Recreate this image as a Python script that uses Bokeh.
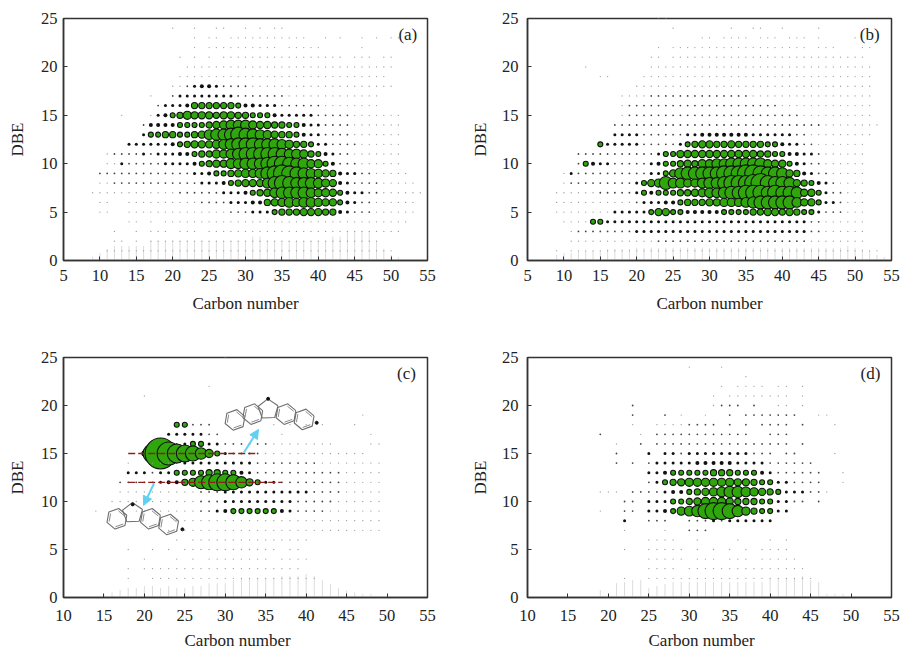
import math
from bokeh.plotting import figure
from bokeh.layouts import column, row
from bokeh.models import Label, Arrow, NormalHead, ColumnDataSource, Title
from bokeh.embed import file_html
from bokeh.resources import INLINE

# Each row: (DBE, abundance class per carbon number, in groups of five starting at C5).
# 0 = nothing, then 1..h rising.
panel_a_rows = [
    (24, "00000 00000 00000 10010 01100 10101 10000 00000 00000 00000"),
    (23, "00000 00000 00000 00010 11011 11111 11110 01010 01010 11000"),
    (22, "00000 00000 00000 00010 11111 11111 01111 10000 01000 00000"),
    (21, "00000 00000 00000 01010 10111 11111 11111 11110 11101 10000"),
    (20, "00000 00000 00000 00111 11111 11111 11111 11111 11111 10000"),
    (19, "00000 00000 00000 01111 11111 11111 11111 11111 11111 00000"),
    (18, "00000 00000 00000 11234 43222 21111 11111 11111 11111 10000"),
    (17, "00000 00000 00100 23333 33332 22222 21111 11111 11110 00000"),
    (16, "00000 00000 00023 33466 66665 44333 22222 21111 11110 00000"),
    (15, "00000 00010 00134 56877 76776 65554 33333 22222 11111 11000"),
    (14, "00000 00000 02444 45555 67899 98776 65543 32222 11111 11000"),
    (13, "00000 00000 03556 65567 9aabc ba987 66543 32222 11111 11000"),
    (12, "00000 00003 33333 45677 789ab bbaaa 98665 33222 21111 11000"),
    (11, "00000 01222 23233 34456 6889a bbbbb a9986 54322 11111 11000"),
    (10, "00000 01132 22223 33345 67799 aaabc cbaa8 85422 21111 11000"),
    (9,  "00000 22222 22222 22233 45567 889bc dcba9 87643 32211 11100"),
    (8,  "00000 11222 22222 22223 33456 7779b cbaaa 98743 22221 11110"),
    (7,  "00001 11111 11111 12222 22333 45679 aaaa9 88754 33221 11111"),
    (6,  "00000 11001 11111 11112 22233 34467 89899 87754 32211 11110"),
    (5,  "00000 11001 11111 11111 11122 23335 66677 76643 22211 11110"),
    (4,  "00000 00001 10101 11111 11111 11111 11111 11111 11111 11100"),
    (3,  "00000 00100 10111 01110 11111 11111 11111 11111 11111 11000"),
    (2,  "00000 00110 10111 11111 11111 11111 11111 11111 11110 00000"),
    (1,  "00000 01111 11111 11111 11111 11111 11111 11111 11111 10000"),
]
panel_a_stripe_c = [9, 10, 11, 12, 13, 14, 15, 16, 17, 18, 19, 20, 21, 22, 23, 24, 25, 26, 27, 28, 29, 30, 31, 32, 33, 34, 35, 36, 37, 38, 39, 40, 41, 42, 43, 44, 45, 46, 47, 48, 49, 50, 51, 52, 53]
panel_a_stripe_top = [0.4, 0.8, 1.2, 1.5, 1.5, 1.5, 1.5, 1.5, 2, 2, 2, 2, 2, 2, 2, 2, 2, 2, 2, 2, 2, 2, 2.5, 2.5, 2, 2, 2, 2, 2, 2, 2, 2, 2, 2.5, 2.5, 3, 3, 3, 3, 2, 1.2, 0.6, 0.3, 0.2, 0.2]

panel_b_rows = [
    (25, "00000 00000 00000 00011 00000 00000 00000 00000 00000 00000"),
    (24, "00000 00000 00000 00000 10000 00010 01100 10000 10000 00000"),
    (23, "00000 00000 00000 00000 00001 10111 10111 01110 10000 10000"),
    (22, "00000 00000 00000 00010 11111 11111 11111 11110 11100 01100"),
    (21, "00000 00000 00000 00110 11111 11111 11111 11111 11111 11000"),
    (20, "00000 00010 00000 00111 11111 11111 11111 11111 11111 11100"),
    (19, "00000 00000 11000 01111 11111 11111 11111 11111 11111 11100"),
    (18, "00000 00000 00000 11111 11111 11111 11111 11111 11111 11100"),
    (17, "00000 00000 00011 11222 22222 22222 21111 11111 11111 11100"),
    (16, "00000 00000 00012 22222 22222 22222 22222 11111 11111 11100"),
    (15, "00000 00000 00012 22222 22222 22222 22222 22211 11111 11100"),
    (14, "00000 00000 00222 22222 22222 22222 22222 22222 21111 11110"),
    (13, "00000 00000 00333 32222 22334 44444 43333 33221 11111 11100"),
    (12, "00000 00000 53333 32222 23567 76676 66655 43322 11111 11000"),
    (11, "00000 00222 22222 22235 57777 77777 77665 54433 21111 11000"),
    (10, "00000 00254 33222 22345 56768 899aa aaa87 75432 21111 11000"),
    (9,  "00000 13222 22222 22335 7abbb bbccc ddcbb a7643 22111 11000"),
    (8,  "00000 12222 22222 35 78b 99889 aabcc cdecb ba765 43211 11000"),
    (7,  "00001 11111 22222 35455 56678 99abb cccbc bba77 53221 11000"),
    (6,  "00001 11111 11111 23334 45666 77888 9abbb bb977 53321 11000"),
    (5,  "00001 11111 11333 33577 55444 44555 56677 67655 32221 11000"),
    (4,  "00000 11115 53333 33333 33333 33333 33333 33332 21111 11000"),
    (3,  "00000 01222 22222 33333 33333 33333 33333 33332 21111 11000"),
    (2,  "00000 01111 11111 11122 22222 22222 22222 22221 11111 11000"),
    (1,  "00001 01111 11111 11111 11111 11111 11111 11111 11111 11110"),
]
panel_b_stripe_c = [9, 10, 11, 12, 13, 14, 15, 16, 17, 18, 19, 20, 21, 22, 23, 24, 25, 26, 27, 28, 29, 30, 31, 32, 33, 34, 35, 36, 37, 38, 39, 40, 41, 42, 43, 44, 45, 46, 47, 48, 49, 50, 51, 52, 53, 54]
panel_b_stripe_top = [0.6, 0.8, 0.8, 0.9, 1, 1, 1, 1.2, 1.2, 1.2, 1.2, 1.3, 1.3, 1.3, 1.3, 1.3, 1.3, 1.3, 1.3, 1.3, 1.3, 1.3, 1.3, 1.3, 1.3, 1.3, 1.3, 1.3, 1.3, 1.3, 1.3, 1.3, 1.3, 1.3, 1.3, 1.3, 1.3, 1.3, 1.3, 1.3, 1.5, 1.3, 1.2, 1, 0.6, 0.4]

panel_c_rows = [
    (25, "00000 00000 00000 00000 00000 10000 00000 00000 00000 00000"),
    (22, "00000 00000 00000 00000 00010 00000 00000 00000 00000 00000"),
    (21, "00000 00000 00000 10000 00000 00000 00000 00000 00000 00000"),
    (19, "00000 00000 00000 00000 00000 00000 00000 00000 00100 00000"),
    (18, "00000 00000 00000 00005 52220 00000 01010 10100 01000 00000"),
    (17, "00000 00000 00000 00033 33322 00000 00100 00000 00010 00000"),
    (16, "00000 00000 00000 00002 35533 22222 21111 11110 00011 00000"),
    (15, "00000 00000 00000 5ehfe dca85 32222 11111 11111 11100 00000"),
    (14, "00000 00000 00010 01112 33333 33332 22222 22111 11111 00000"),
    (13, "00000 00000 00033 32335 55566 55432 22222 22222 11111 00000"),
    (12, "00000 00000 00222 22344 68bcd dca75 33222 22222 11111 00000"),
    (11, "00000 00000 00111 11111 11222 33333 33333 32222 11111 00000"),
    (10, "00000 00000 01111 11111 11222 33333 33332 22221 11111 00000"),
    (9,  "00000 00001 00001 10111 11223 45555 55432 22211 11111 00000"),
    (8,  "00000 00000 00000 00001 11111 11111 11111 11111 11111 00000"),
    (7,  "00000 00000 00000 00011 11111 11111 11111 11111 11111 00000"),
    (6,  "00000 00000 00000 00001 01111 11111 11111 10000 00000 00000"),
    (5,  "00000 00000 00010 01010 11111 11111 11011 00000 00000 00000"),
    (4,  "00000 00000 00000 10001 01011 11111 10111 10000 00000 00000"),
    (3,  "00000 00000 00010 11111 11111 11111 11111 00000 00000 00000"),
    (2,  "00000 00000 00010 01111 11111 11111 11111 11000 00000 00000"),
]
panel_c_stripe_c = [14, 15, 16, 17, 18, 19, 20, 21, 22, 23, 24, 25, 26, 27, 28, 29, 30, 31, 32, 33, 34, 35, 36, 37, 38, 39, 40, 41, 42, 43, 44, 45, 46, 47, 48, 49, 50]
panel_c_stripe_top = [0.2, 0.4, 0.5, 0.8, 1, 1, 1.2, 1.2, 1, 1.2, 1, 1, 1.2, 1.2, 1.5, 1.5, 1.5, 1.8, 2, 2, 2, 2, 2, 2.2, 2.2, 2.2, 2.4, 2.2, 1.8, 1.4, 1, 0.7, 0.5, 0.4, 0.3, 0.2, 0.1]

panel_d_rows = [
    (24, "00000 00000 00000 00000 00000 10001 00000 00000 00000 00000"),
    (23, "00000 00000 00000 00000 00000 00000 00100 00000 00000 00000"),
    (22, "00000 00000 00000 00000 00000 00001 01111 01101 00000 00000"),
    (21, "00000 00000 00000 00000 00000 00010 11111 11101 00000 00000"),
    (20, "00000 00000 00000 00020 00000 00012 22020 01101 00000 00000"),
    (19, "00000 00000 00000 00020 00201 00100 20222 22220 01100 00000"),
    (18, "00000 00000 00000 00010 01111 22220 20202 22202 00010 00000"),
    (17, "00000 00000 00002 00001 02222 22222 22200 22200 00000 00000"),
    (16, "00000 00000 00000 01002 02222 22222 22222 22202 00000 00000"),
    (15, "00000 00000 00000 02000 30332 33333 33322 20220 00010 00000"),
    (14, "00000 00000 00000 02020 23333 34444 43333 22222 20000 00000"),
    (13, "00000 00000 00000 00000 33455 55566 65554 32222 22001 00000"),
    (12, "00000 00000 00000 00000 23567 88888 87765 53322 22001 00000"),
    (11, "00000 00000 00001 11022 22344 56789 aa987 65333 22100 00000"),
    (10, "00000 00000 00000 00220 33355 67888 76665 53322 02000 00000"),
    (9,  "00000 00000 00001 00220 33458 9acdd ca865 53300 00000 00000"),
    (8,  "00000 00000 00000 00300 22200 22232 33333 30000 00000 00000"),
    (7,  "00000 00000 00000 00100 00100 22200 00000 00000 00000 00000"),
    (6,  "00000 00000 00000 00000 11110 01000 01000 10100 00000 00000"),
    (5,  "00000 00000 00000 00100 11111 01010 10101 11100 00000 00000"),
    (4,  "00000 00000 00000 00000 11111 01110 11101 11110 00000 00000"),
    (3,  "00000 00000 00000 00000 11110 11111 11111 11111 00000 00000"),
    (2,  "00000 00000 00000 00100 11111 11111 11111 11111 10000 00000"),
]
panel_d_stripe_c = [19, 21, 22, 23, 24, 25, 26, 27, 28, 29, 30, 31, 32, 33, 34, 35, 36, 37, 38, 39, 40, 41, 42, 43, 44, 45, 46, 47, 48, 49]
panel_d_stripe_top = [0.8, 1.5, 1.6, 1.8, 1.8, 1, 1.2, 1.4, 1.6, 1.6, 1.6, 1.6, 1.6, 1.6, 1.6, 1.6, 1.6, 1.6, 1.6, 1.6, 2, 2, 2, 2, 2.2, 1.8, 1.6, 0.3, 0.3, 0.3]

x_ticks_wide = [5, 10, 15, 20, 25, 30, 35, 40, 45, 50, 55]
x_ticks_narrow = [10, 15, 20, 25, 30, 35, 40, 45, 50, 55]
y_ticks = [0, 5, 10, 15, 20, 25]
x_axis_title = "Carbon number"
y_axis_title = "DBE"

# panel (c) annotations, in chart units
guide_dbe = [15, 12]
guide_from = [18, 18]
guide_to = [34, 37]
arrow_tails = [(32.3, 15.1), (21.2, 11.9)]
arrow_heads = [(34.1, 17.5), (19.9, 9.6)]
molecule_upper_rings = [(31.2, 18.5, 6), (33.4, 19.1, 6), (35.3, 19.6, 5), (37.5, 19.1, 6), (39.75, 18.55, 6)]
molecule_lower_rings = [(16.6, 8.2, 6), (18.55, 8.8, 5), (20.75, 8.2, 6), (23.0, 7.6, 6)]
molecule_dots = [(35.3, 20.7), (41.3, 18.2), (18.55, 9.7), (24.7, 7.1)]

GREEN = "#2fa60c"
LEVELS = "0123456789abcdefgh"
SIZES = [0, 1.3, 1.8, 3.0, 4.0, 5.0, 6.2, 7.2, 8.2, 9.8, 11.4, 13, 15, 17, 19, 23, 27, 31]


def panel(rows, stripe_c, stripe_top, xmin, xticks, letter, letter_x, width, height, left, right, top, bottom,
          y_tick_std, y_lab_std, x_tick_std, x_lab_std, title_below=False):
    p = figure(width=width, height=height, x_range=(xmin, 55), y_range=(0, 25),
               output_backend="svg", toolbar_location=None,
               min_border_left=left, min_border_right=right, min_border_top=top, min_border_bottom=bottom)
    p.grid.visible = False
    p.background_fill_color = "white"
    p.border_fill_color = "white"
    p.outline_line_color = "#333333"
    p.outline_line_width = 1.5
    for ax, ticks, title in ((p.xaxis[0], xticks, x_axis_title), (p.yaxis[0], y_ticks, y_axis_title)):
        ax.ticker = ticks
        ax.axis_label = title
        ax.axis_label_text_font = "Liberation Serif"
        ax.axis_label_text_font_size = "17px"
        ax.axis_label_text_font_style = "normal"
        ax.axis_label_text_color = "#222222"
        ax.major_label_text_font = "Liberation Serif"
        ax.major_label_text_font_size = "16.5px"
        ax.major_label_text_color = "#222222"
        ax.axis_line_color = "#333333"
        ax.axis_line_width = 1.5
        ax.major_tick_line_color = "#333333"
        ax.major_tick_in = 4
        ax.major_tick_out = 0
        ax.minor_tick_line_color = None
    p.xaxis[0].major_label_standoff = x_tick_std
    p.yaxis[0].major_label_standoff = y_tick_std
    p.xaxis[0].axis_label_standoff = x_lab_std
    p.yaxis[0].axis_label_standoff = y_lab_std
    if title_below:
        p.xaxis[0].axis_label = None
        p.add_layout(Title(text=x_axis_title, align="left", offset=121, standoff=10, text_font="Liberation Serif",
                           text_font_size="17px", text_font_style="normal", text_color="#222222"), "below")

    p.segment(x0=stripe_c, y0=[0] * len(stripe_c), x1=stripe_c, y1=stripe_top,
              line_color="#b8b8b8", line_width=1, line_dash="1 1")

    xs, ys, size, fill, line, lw = [], [], [], [], [], []
    for dbe, codes in rows:
        for i, ch in enumerate(codes.replace(" ", "")):
            k = LEVELS.index(ch)
            if k == 0:
                continue
            xs.append(5 + i)
            ys.append(dbe)
            size.append(SIZES[k])
            fill.append(GREEN if k >= 5 else ("#9a9a9a" if k == 1 else ("#444444" if k == 2 else "#111111")))
            line.append("#111111" if k >= 5 else None)
            lw.append(1.1 if k >= 5 else 0)
    src = ColumnDataSource(dict(x=xs, y=ys, s=size, f=fill, l=line, w=lw))
    p.scatter("x", "y", size="s", fill_color="f", line_color="l", line_width="w", source=src)

    p.add_layout(Label(x=letter_x, y=23.35, text=letter, text_font="Liberation Serif", text_font_size="17px",
                       text_align="center", text_baseline="middle", text_color="#222222"))
    return p


def add_ring(p, cx, cy, n):
    sx, sy = 10.5 / 8.07, 10.5 / 9.65
    ang = [math.radians(20 + k * 360 / n) for k in range(n + 1)]
    p.line([cx + sx * math.cos(a) for a in ang], [cy + sy * math.sin(a) for a in ang],
           line_color="#6e6e6e", line_width=1.1)
    if n == 6:
        for k in (0, 2, 4):
            p.line([cx + 0.78 * sx * math.cos(ang[k]), cx + 0.78 * sx * math.cos(ang[k + 1])],
                   [cy + 0.78 * sy * math.sin(ang[k]), cy + 0.78 * sy * math.sin(ang[k + 1])],
                   line_color="#8a8a8a", line_width=1)


pa = panel(panel_a_rows, panel_a_stripe_c, panel_a_stripe_top, 5, x_ticks_wide, "(a)", 52.3, 452, 335, 63, 25, 18, 75, 6, 11, 9, 10)
pb = panel(panel_b_rows, panel_b_stripe_c, panel_b_stripe_top, 5, x_ticks_wide, "(b)", 52.0, 449, 335, 75, 10, 18, 75, 9, 9, 9, 10)
pc = panel(panel_c_rows, panel_c_stripe_c, panel_c_stripe_top, 10, x_ticks_narrow, "(c)", 52.4, 452, 319, 63, 25, 22, 56, 6, 11, 12, 12, True)
pd = panel(panel_d_rows, panel_d_stripe_c, panel_d_stripe_top, 10, x_ticks_narrow, "(d)", 52.4, 449, 319, 75, 10, 22, 56, 9, 9, 12, 12, True)

for dbe, a, b in zip(guide_dbe, guide_from, guide_to):
    pc.line([a, b], [dbe, dbe], line_color="#8f1f1f", line_width=1.3, line_dash="7 3")
for (x0, y0), (x1, y1) in zip(arrow_tails, arrow_heads):
    pc.add_layout(Arrow(x_start=x0, y_start=y0, x_end=x1, y_end=y1, line_color="#62d0f2", line_width=2,
                        end=NormalHead(size=9, fill_color="#62d0f2", line_color="#62d0f2")))
for cx, cy, n in molecule_upper_rings + molecule_lower_rings:
    add_ring(pc, cx, cy, n)
pc.scatter([d[0] for d in molecule_dots], [d[1] for d in molecule_dots], size=3, color="#111111")

page = column(row(pa, pb), row(pc, pd))
open("out.html", "w").write(file_html(page, INLINE))
